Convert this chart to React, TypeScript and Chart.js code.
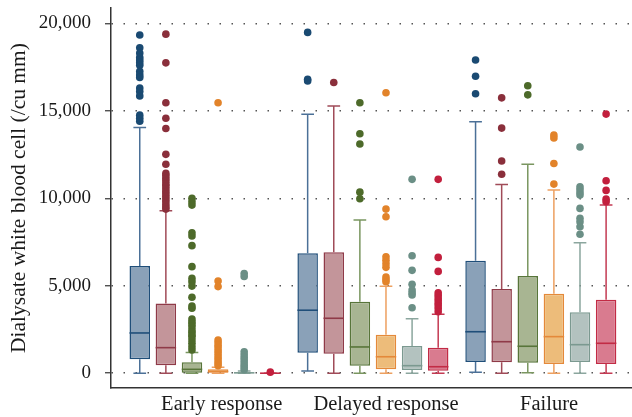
import React, { useEffect, useRef } from 'react';
import { Chart, registerables } from 'chart.js';

Chart.register(...registerables);

// ---------- DATA ----------
const groups = ['Early response', 'Delayed response', 'Failure'];
const seriesNames = ['Series 1', 'Series 2', 'Series 3', 'Series 4', 'Series 5', 'Series 6'];
const yTickValues = [0, 5000, 10000, 15000, 20000];

// per series (6) × per group (3)
const whiskerLow = [
  [0, 120, 50],
  [0, 0, 0],
  [0, 0, 30],
  [0, 0, 0],
  [0, 0, 0],
  [0, 0, 0],
];
const q1Values = [
  [800, 1170, 640],
  [450, 1110, 620],
  [30, 430, 600],
  [20, 220, 530],
  [0, 180, 640],
  [0, 140, 530],
];
const medianValues = [
  [2300, 3600, 2370],
  [1460, 3140, 1800],
  [220, 1500, 1540],
  [100, 940, 2090],
  [20, 430, 1630],
  [0, 370, 1710],
];
const q3Values = [
  [6130, 6850, 6430],
  [3990, 6910, 4810],
  [620, 4090, 5550],
  [220, 2200, 4540],
  [60, 1550, 3480],
  [0, 1460, 4200],
];
const whiskerHigh = [
  [14050, 14800, 14370],
  [9290, 15270, 10790],
  [1190, 8750, 11950],
  [340, 4970, 10470],
  [130, 3110, 7460],
  [0, 3370, 9610],
];
const outliers1 = [
  [19330, 18600, 18300, 18050, 17900, 17750, 17600, 17250, 17050, 16900, 16300, 16100, 15850, 14750, 14570, 14400],
  [19480, 16800, 16700],
  [17900, 16970, 15970],
];
const outliers2 = [
  [19380, 17740, 15460, 14570, 13990, 12510, 11940, 11420, 11280, 11130, 10990, 10820, 10700, 10540, 10380, 10250, 10100, 9960, 9810, 9650, 9500, 9380],
  [16620],
  [15740, 14010, 12130, 11370],
];
const outliers3 = [
  [10000, 9800, 9610, 8030, 7840, 7290, 6090, 5420, 5230, 4980, 4340, 3840, 3710, 3100, 2940, 2810, 2660, 2470, 2340, 2180, 2090, 1900, 1710, 1510, 1330],
  [15460, 13690, 13100, 10350, 9970],
  [16430, 15910],
];
const outliers4 = [
  [15460, 5270, 4950, 1900, 1750, 1600, 1450, 1300, 1150, 1000, 850, 700, 560, 430],
  [16030, 9380, 8940, 6650, 6450, 6250, 6050, 5500, 5350, 5230],
  [13610, 13450, 11990, 10810],
];
const outliers5 = [
  [5700, 5530, 1230, 1050, 900, 750, 600, 450, 320, 200],
  [11080, 6710, 5880, 5080, 4750, 4600, 4470, 3740],
  [12930, 10660, 10500, 10330, 10180, 9420, 8850, 8660, 8370, 7940],
];
const outliers6 = [
  [60],
  [11080, 6620, 5820, 4600, 4450, 4300, 4150, 4000, 3850, 3700, 3510],
  [14810, 11000, 10450, 9950, 9800],
];
const outlierValues = [outliers1, outliers2, outliers3, outliers4, outliers5, outliers6];

// ---------- STYLE ----------
const FONT = "'Liberation Serif', 'Times New Roman', serif";
const fillColors = ['#8aa1b8', '#c3959a', '#a8b592', '#edbc7a', '#b3c2bf', '#d97b8f'];
const borderColors = ['#1f4e79', '#8f3a48', '#58753a', '#e4893a', '#7b9990', '#c22b45'];
const whiskerColors = ['#4b7097', '#a04b58', '#7a9660', '#eda060', '#8ba69e', '#c43a53'];
const outlierColors = ['#1a4a72', '#8a2f3b', '#4d6a2a', '#e2832a', '#6b8f86', '#c21f3d'];

const X_MIN = 0.44;
const X_MAX = 3.543;
const LABEL_TICKS = [1.0995, 2.078, 3.049];

const fmt = (v: number) => String(v).replace(/\B(?=(\d{3})+(?!\d))/g, ',');

const boxPlugin = {
  id: 'boxExtras',
  afterDatasetsDraw(chart: any) {
    const ctx = chart.ctx;
    const yS = chart.scales.y;
    ctx.save();
    chart.data.datasets.forEach((_ds: any, i: number) => {
      const meta = chart.getDatasetMeta(i);
      meta.data.forEach((el: any, j: number) => {
        const { x, width } = el.getProps(['x', 'width'], true);
        const cap = width * 0.62;
        const pQ1 = yS.getPixelForValue(q1Values[i][j]);
        const pQ3 = yS.getPixelForValue(q3Values[i][j]);
        const pLo = yS.getPixelForValue(whiskerLow[i][j]);
        const pHi = yS.getPixelForValue(whiskerHigh[i][j]);
        const pMed = yS.getPixelForValue(medianValues[i][j]);
        ctx.lineWidth = 1.5;
        ctx.strokeStyle = whiskerColors[i];
        ctx.beginPath();
        if (pHi < pQ3) {
          ctx.moveTo(x, pQ3);
          ctx.lineTo(x, pHi);
        }
        ctx.moveTo(x - cap / 2, pHi);
        ctx.lineTo(x + cap / 2, pHi);
        if (pLo > pQ1) {
          ctx.moveTo(x, pQ1);
          ctx.lineTo(x, pLo);
        }
        ctx.moveTo(x - cap / 2, pLo);
        ctx.lineTo(x + cap / 2, pLo);
        ctx.stroke();
        // median
        ctx.strokeStyle = borderColors[i];
        ctx.lineWidth = 1.6;
        ctx.beginPath();
        ctx.moveTo(x - width / 2, pMed);
        ctx.lineTo(x + width / 2, pMed);
        ctx.stroke();
        // outliers
        ctx.fillStyle = outlierColors[i];
        outlierValues[i][j].forEach((v: number) => {
          ctx.beginPath();
          ctx.arc(x, yS.getPixelForValue(v), 3.8, 0, Math.PI * 2);
          ctx.fill();
        });
      });
    });
    ctx.restore();
  },
};

export default function App() {
  const ref = useRef<HTMLCanvasElement | null>(null);
  useEffect(() => {
    if (!ref.current) return;
    const datasets = seriesNames.map((name, s) => ({
      type: 'bar' as const,
      label: name,
      data: groups.map((_g, j) => ({ x: j + 1, y: [q1Values[s][j], q3Values[s][j]] })),
      backgroundColor: fillColors[s],
      borderColor: borderColors[s],
      borderWidth: 1.5,
      borderSkipped: false,
      categoryPercentage: 0.933,
      barPercentage: 0.785,
      xAxisID: 'x',
      yAxisID: 'y',
    }));
    const chart = new Chart(ref.current, {
      type: 'bar',
      data: { datasets: datasets as any },
      options: {
        responsive: false,
        animation: false,
        devicePixelRatio: 1,
        layout: { padding: { top: 8, left: 0, right: 0, bottom: 0 } },
        plugins: { legend: { display: false }, tooltip: { enabled: false } },
        scales: {
          x: {
            type: 'linear',
            display: false,
            offset: false,
            min: X_MIN,
            max: X_MAX,
            grid: { offset: false },
            afterBuildTicks: (s: any) => {
              s.ticks = groups.map((_g, j) => ({ value: j + 1 }));
            },
          },
          x2: {
            type: 'linear',
            position: 'bottom',
            offset: false,
            min: X_MIN,
            max: X_MAX,
            afterBuildTicks: (s: any) => {
              s.ticks = LABEL_TICKS.map((v) => ({ value: v }));
            },
            ticks: {
              autoSkip: false,
              maxRotation: 0,
              padding: 4,
              color: '#1a1a1a',
              font: { family: FONT, size: 20.5 },
              callback: (_v: any, i: number) => groups[i],
            },
            grid: { display: false, drawTicks: false, offset: false },
            border: { display: true, color: '#333', width: 1.5 },
            afterFit: (s: any) => {
              s.height = 29;
              s.paddingLeft = 0;
              s.paddingRight = 0;
              s.paddingTop = 0;
              s.paddingBottom = 0;
            },
          },
          y: {
            type: 'linear',
            min: -846,
            max: 20875,
            afterBuildTicks: (s: any) => {
              s.ticks = yTickValues.map((v) => ({ value: v }));
            },
            ticks: {
              padding: 14,
              color: '#1a1a1a',
              font: { family: FONT, size: 19 },
              callback: (v: any) => fmt(Number(v)),
            },
            grid: {
              color: '#555',
              lineWidth: 1.5,
              tickLength: 6,
              tickColor: '#333',
              tickWidth: 1.2,
            },
            border: { display: true, color: '#333', width: 1.5, dash: [1.5, 10.5] },
            title: {
              display: true,
              text: 'Dialysate white blood cell (/cu mm)',
              color: '#1a1a1a',
              font: { family: FONT, size: 21.5 },
              padding: { top: 6, bottom: 0 },
            },
            afterFit: (s: any) => {
              s.width = 111;
              s.paddingTop = 0;
              s.paddingBottom = 0;
              s.paddingLeft = 0;
              s.paddingRight = 0;
            },
          },
        },
      } as any,
      plugins: [boxPlugin],
    });
    return () => chart.destroy();
  }, []);
  return (
    <div style={{ position: 'fixed', left: 0, top: 0, width: 632, height: 417, background: '#fff' }}>
      <canvas ref={ref} width={632} height={417} style={{ display: 'block' }} />
    </div>
  );
}
